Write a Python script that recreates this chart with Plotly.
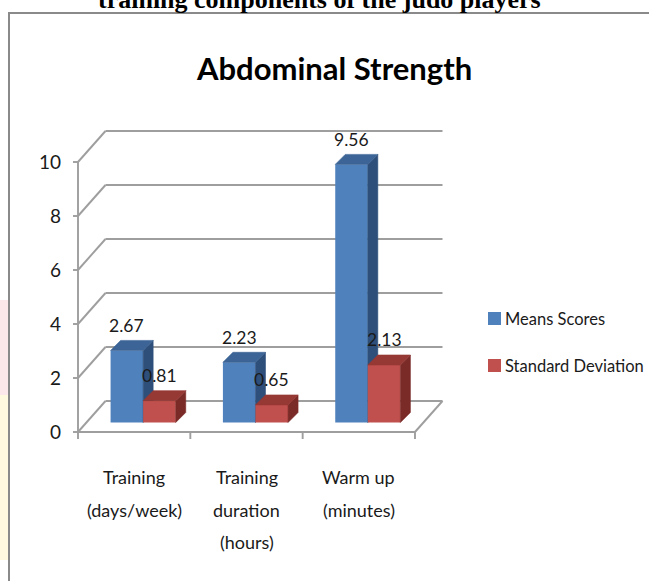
import plotly.graph_objects as go

# ---- data ----
categories = [["Training", "(days/week)"], ["Training", "duration", "(hours)"], ["Warm up", "(minutes)"]]
series_names = ["Means Scores", "Standard Deviation"]
means_scores = [2.67, 2.23, 9.56]
standard_deviation = [0.81, 0.65, 2.13]
y_ticks = [0, 2, 4, 6, 8, 10]
chart_title = "Abdominal Strength"
caption = "training components of the judo players"

# ---- styling / geometry ----
W, H = 649, 581
M_L, M_R, M_T, M_B = 71, 189, 100, 141
PX_X, PX_Y = 112.33, 27.0          # pixels per x unit (one category) and per y unit
X0_PX, Y0_PX = 78, 432             # pixel position of the value origin
PW, PH = W - M_L - M_R, H - M_T - M_B
x_lo = (M_L - X0_PX) / PX_X
y_lo = (Y0_PX - (H - M_B)) / PX_Y
x_range = [x_lo, x_lo + PW / PX_X]
y_range = [y_lo, y_lo + PH / PX_Y]

DEPTH_X, DEPTH_Y = 27.5 / PX_X, 31 / PX_Y      # depth of the walls / floor
BASE = 9.5 / PX_Y                               # bars stand a third into the floor
BAR_DX, BAR_DY = 10 / PX_X, 10 / PX_Y           # bar thickness
GROUP_LEFT, BAR_W = 0.29, 0.29
n_cat = len(categories)

FONT = "Lato, Roboto, sans-serif"
TEXT = "#1a1a1a"
GRID = "#9e9e9e"
palette = [
    dict(front="#4F81BD", top="#3C6496", side="#2E4F7A"),
    dict(front="#C0504D", top="#963834", side="#7A2A27"),
]


def px_to_paper(px, py):
    return (px - M_L) / PW, (H - M_B - py) / PH


fig = go.Figure()

# ---- bars: front faces as bars, sides and tops as filled polygons ----
for s, values in enumerate([means_scores, standard_deviation]):
    xa = "x" if s == 0 else "x2"
    ya = "y" if s == 0 else "y2"
    col = palette[s]
    lefts = [i + GROUP_LEFT + s * BAR_W for i in range(n_cat)]
    fig.add_trace(go.Bar(
        x=[l + BAR_W / 2 for l in lefts], y=values, base=BASE, width=BAR_W,
        marker=dict(color=col["front"], line=dict(width=0)),
        name=series_names[s], showlegend=False, hoverinfo="skip",
        xaxis=xa, yaxis=ya,
    ))
    sx, sy, tx, ty = [], [], [], []
    for l, v in zip(lefts, values):
        r = l + BAR_W
        top = BASE + v
        sx += [r, r + BAR_DX, r + BAR_DX, r, r, None]
        sy += [BASE, BASE + BAR_DY, top + BAR_DY, top, BASE, None]
        tx += [l, l + BAR_DX, r + BAR_DX, r, l, None]
        ty += [top, top + BAR_DY, top + BAR_DY, top, top, None]
    for xs, ys, c in [(sx, sy, col["side"]), (tx, ty, col["top"])]:
        fig.add_trace(go.Scatter(
            x=xs, y=ys, fill="toself", mode="lines", fillcolor=c,
            line=dict(color=c, width=0.6), showlegend=False, hoverinfo="skip",
            xaxis=xa, yaxis=ya,
        ))

# ---- walls, floor, axis and tick marks ----
shapes = []


def seg(x0, y0, x1, y1, color=GRID, width=1.9):
    shapes.append(dict(type="line", xref="x", yref="y", x0=x0, y0=y0, x1=x1, y1=y1,
                       line=dict(color=color, width=width), layer="below"))


for v in y_ticks:
    seg(DEPTH_X, v + DEPTH_Y, n_cat + DEPTH_X, v + DEPTH_Y)   # back wall
    seg(0, v, DEPTH_X, v + DEPTH_Y)                           # side wall
    seg(-5 / PX_X, v, 0, v)                                   # y tick mark
seg(0, 0, 0, y_ticks[-1])
seg(0, 0, n_cat, 0)
seg(n_cat, 0, n_cat + DEPTH_X, DEPTH_Y)
for i in range(n_cat + 1):
    seg(i, 0, i, -7 / PX_Y)

# frame around the figure
fx0, fy0 = px_to_paper(9, 13)
fx1, fy1 = px_to_paper(W + 5, H + 5)
shapes.append(dict(type="path", xref="paper", yref="paper",
                   path=f"M{fx0},{fy1} L{fx0},{fy0} L{fx1},{fy0}",
                   line=dict(color="#8a8a8a", width=2)))

# faint page decoration left of the frame
for (a, b, c) in [(300, 395, "#fce8ea"), (395, 560, "#fffadf")]:
    px0, py0 = px_to_paper(0, a)
    px1, py1 = px_to_paper(8, b)
    shapes.append(dict(type="rect", xref="paper", yref="paper", x0=px0, x1=px1,
                       y0=py1, y1=py0, line=dict(width=0), fillcolor=c, layer="below"))

# manual legend swatches
legend_rows = [318.5, 365.5]
for s, cy in enumerate(legend_rows):
    qx0, qy0 = px_to_paper(488, cy - 6.5)
    qx1, qy1 = px_to_paper(501, cy + 6.5)
    shapes.append(dict(type="rect", xref="paper", yref="paper", x0=qx0, x1=qx1,
                       y0=qy1, y1=qy0, line=dict(width=0), fillcolor=palette[s]["front"]))

# ---- texts ----
ann = []
for s, values in enumerate([means_scores, standard_deviation]):
    for i, v in enumerate(values):
        ann.append(dict(x=i + GROUP_LEFT + s * BAR_W + BAR_W / 2, y=BASE + v, xref="x", yref="y",
                        text=f"{v:.2f}", showarrow=False, yanchor="middle", yshift=25,
                        font=dict(family=FONT, size=17.5, color=TEXT)))

for i, lines in enumerate(categories):
    for k, line in enumerate(lines):
        ann.append(dict(x=i + 0.5, y=0, xref="x", yref="y", text=line, showarrow=False,
                        yanchor="middle", yshift=-(45 + 32.5 * k),
                        font=dict(family=FONT, size=18, color=TEXT)))

for s, cy in enumerate(legend_rows):
    lx, ly = px_to_paper(503, cy)
    ann.append(dict(x=lx, y=ly, xref="paper", yref="paper", text=series_names[s],
                    showarrow=False, xanchor="left", yanchor="middle",
                    font=dict(family=FONT, size=16.5, color=TEXT)))

tx_, ty_ = px_to_paper(334, 68)
ann.append(dict(x=tx_, y=ty_, xref="paper", yref="paper", text=f"<b>{chart_title}</b>",
                showarrow=False, xanchor="center", yanchor="middle",
                font=dict(family=FONT, size=31, color="#000000")))

cx_, cy_ = px_to_paper(319, 0)
ann.append(dict(x=cx_, y=cy_, xref="paper", yref="paper", text=f"<b>{caption}</b>",
                showarrow=False, xanchor="center", yanchor="middle",
                font=dict(family="Liberation Serif, serif", size=26, color="#000000")))

fig.update_layout(
    width=W, height=H,
    margin=dict(l=M_L, r=M_R, t=M_T, b=M_B, pad=0),
    paper_bgcolor="white", plot_bgcolor="rgba(0,0,0,0)",
    showlegend=False,
    xaxis=dict(range=x_range, showgrid=False, zeroline=False, showline=False,
               showticklabels=False, ticks="", fixedrange=True),
    yaxis=dict(range=y_range, showgrid=False, zeroline=False, showline=False,
               tickvals=y_ticks, ticks="", ticklabelstandoff=9,
               tickfont=dict(family=FONT, size=19, color=TEXT), fixedrange=True),
    xaxis2=dict(range=x_range, overlaying="x", visible=False, fixedrange=True),
    yaxis2=dict(range=y_range, overlaying="y", visible=False, fixedrange=True),
    shapes=shapes, annotations=ann,
)

fig.write_html("out.html")
